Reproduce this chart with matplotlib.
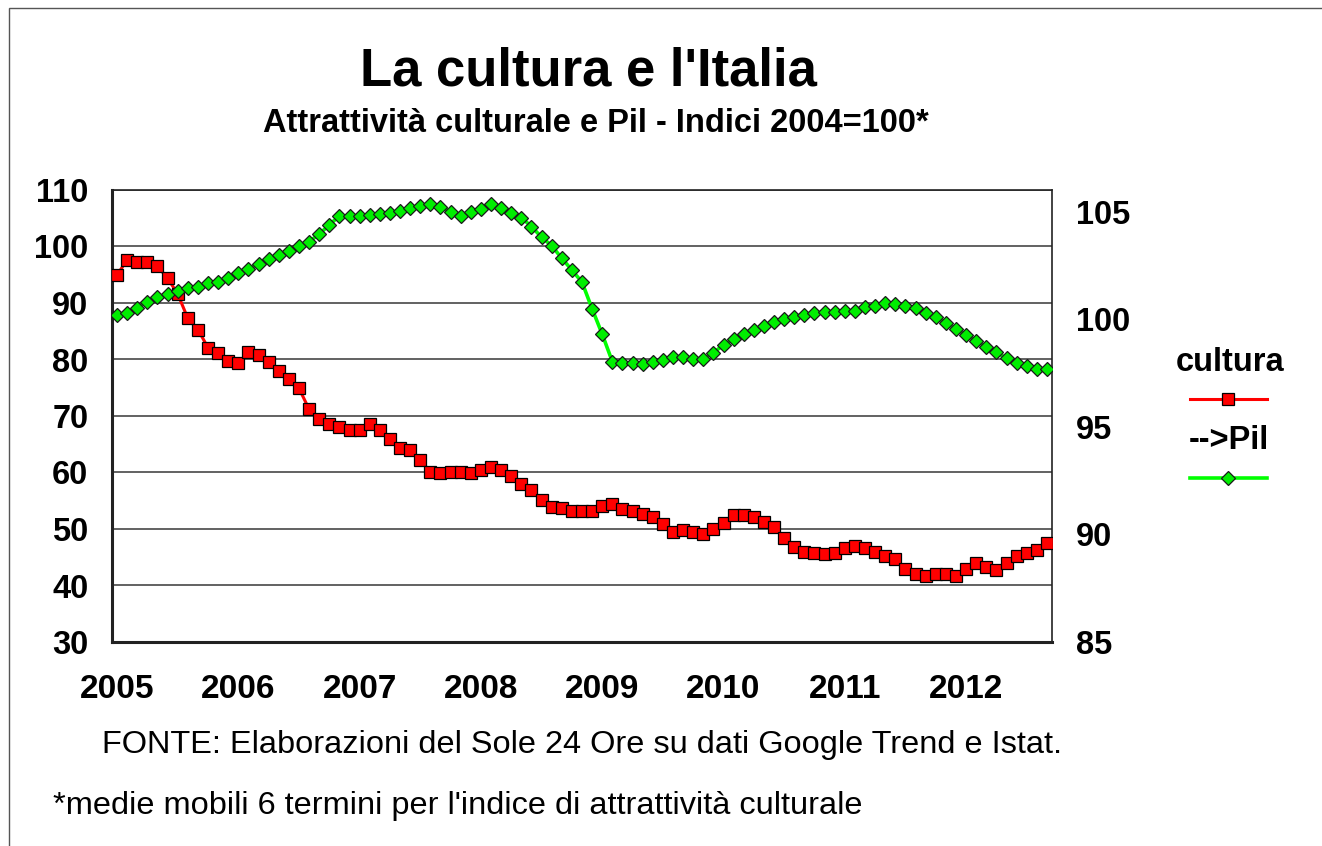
import matplotlib
matplotlib.use("Agg")
import matplotlib.pyplot as plt
from matplotlib.lines import Line2D
from matplotlib.patches import Rectangle

plt.rcParams['font.family'] = ['Liberation Sans', 'DejaVu Sans']

# Monthly data, Jan 2005 - Sep 2012
cultura = [95.0, 97.6, 97.3, 97.3, 96.5, 94.4, 91.6, 87.3, 85.3, 82.1, 81.1, 79.7,
           79.3, 81.3, 80.8, 79.5, 78.0, 76.6, 74.9, 71.2, 69.4, 68.6, 68.1, 67.5,
           67.5, 68.6, 67.5, 65.9, 64.3, 64.0, 62.2, 60.1, 59.9, 60.1, 60.1, 59.9,
           60.4, 60.9, 60.4, 59.3, 57.9, 56.9, 55.1, 53.9, 53.7, 53.2, 53.2, 53.2,
           54.1, 54.4, 53.5, 53.2, 52.7, 52.2, 50.8, 49.4, 49.8, 49.4, 49.1, 50.0,
           51.1, 52.5, 52.5, 52.2, 51.3, 50.3, 48.4, 46.8, 46.0, 45.7, 45.5, 45.7,
           46.6, 47.0, 46.6, 46.0, 45.2, 44.7, 43.0, 42.0, 41.7, 42.0, 42.0, 41.7,
           43.0, 43.9, 43.3, 42.7, 44.0, 45.2, 45.7, 46.3, 47.6]

pil = [100.20, 100.28, 100.54, 100.81, 101.01, 101.17, 101.33, 101.44, 101.51, 101.67, 101.74, 101.93,
       102.13, 102.33, 102.57, 102.80, 102.98, 103.18, 103.40, 103.60, 103.95, 104.38, 104.80, 104.80,
       104.80, 104.85, 104.87, 104.95, 105.03, 105.15, 105.26, 105.35, 105.23, 105.00, 104.79, 105.00,
       105.12, 105.35, 105.15, 104.95, 104.72, 104.30, 103.81, 103.41, 102.83, 102.28, 101.72, 100.48,
       99.30, 98.03, 97.95, 97.98, 97.91, 98.01, 98.11, 98.26, 98.23, 98.15, 98.15, 98.44,
       98.80, 99.07, 99.30, 99.50, 99.70, 99.85, 100.00, 100.12, 100.20, 100.28, 100.32, 100.32,
       100.38, 100.38, 100.55, 100.63, 100.77, 100.69, 100.63, 100.54, 100.28, 100.08, 99.84, 99.54,
       99.27, 98.99, 98.72, 98.46, 98.18, 97.98, 97.83, 97.69, 97.69]

year_labels = ['2005', '2006', '2007', '2008', '2009', '2010', '2011', '2012']
left_ticks = [30, 40, 50, 60, 70, 80, 90, 100, 110]
right_ticks = [85, 90, 95, 100, 105]

W, H = 1322, 846
fig = plt.figure(figsize=(W / 100, H / 100), dpi=100)
fig.patch.set_facecolor('white')

# outer chart border (partly cut off)
fig.patches.append(Rectangle((9 / W, -0.05), 1.2, 1 - 8 / H + 0.05, transform=fig.transFigure,
                             fill=False, edgecolor='#555555', linewidth=1.0))

L, R, T, B = 112, 1052, 190, 642
ax = fig.add_axes([L / W, 1 - B / H, (R - L) / W, (B - T) / H])
x = list(range(len(cultura)))

ax.plot(x, cultura, color='#FF0000', lw=2.2, marker='s', ms=8,
        markerfacecolor='#FF0000', markeredgecolor='#000000', markeredgewidth=0.9, zorder=3)
ax.set_ylim(30, 110)
ax.set_xlim(-0.5, len(cultura) - 0.5)
ax.set_yticks(left_ticks)
ax.set_yticklabels([str(t) for t in left_ticks], fontsize=23.5, fontweight='bold')
ax.set_xticks([12 * k for k in range(len(year_labels))])
ax.set_xticklabels(year_labels, fontsize=24, fontweight='bold')
ax.tick_params(axis='both', length=0)
ax.tick_params(axis='x', pad=23)
ax.tick_params(axis='y', pad=17)
ax.yaxis.grid(True, color='#555555', linewidth=1.3)
ax.set_axisbelow(True)
for s in ['left', 'bottom']:
    ax.spines[s].set_linewidth(2.2)
    ax.spines[s].set_color('#222222')
for s in ['top', 'right']:
    ax.spines[s].set_linewidth(1.2)
    ax.spines[s].set_color('#222222')

ax2 = ax.twinx()
ax2.plot(x, pil, color='#00FF00', lw=2.6, marker='D', ms=6.8,
         markerfacecolor='#00EE00', markeredgecolor='#1a1a1a', markeredgewidth=0.9, zorder=3)
ax2.set_ylim(85, 106)
ax2.set_yticks(right_ticks)
ax2.set_yticklabels([str(t) for t in right_ticks], fontsize=23.5, fontweight='bold')
ax2.tick_params(axis='y', length=0, pad=17)
for s in ax2.spines.values():
    s.set_visible(False)

# titles
fig.text(588 / W, 1 - 72 / H, "La cultura e l'Italia", ha='center', va='center',
         fontsize=38, fontweight='bold')
fig.text(596 / W, 1 - 123 / H, "Attrattività culturale e Pil - Indici 2004=100*", ha='center',
         va='center', fontsize=23.5, fontweight='bold')

# legend (manual)
fig.text(1230 / W, 1 - 362 / H, "cultura", ha='center', va='center', fontsize=23.5, fontweight='bold')
fig.lines.append(Line2D([1190 / W, 1267 / W], [1 - 399 / H, 1 - 399 / H], transform=fig.transFigure,
                        color='#FF0000', lw=2.2))
fig.lines.append(Line2D([1228 / W], [1 - 399 / H], transform=fig.transFigure, marker='s', ms=8,
                        markerfacecolor='#FF0000', markeredgecolor='#000000', markeredgewidth=0.9))
fig.text(1229 / W, 1 - 440 / H, "-->Pil", ha='center', va='center', fontsize=23.5, fontweight='bold')
fig.lines.append(Line2D([1190 / W, 1267 / W], [1 - 478 / H, 1 - 478 / H], transform=fig.transFigure,
                        color='#00FF00', lw=2.6))
fig.lines.append(Line2D([1228 / W], [1 - 478 / H], transform=fig.transFigure, marker='D', ms=6.8,
                        markerfacecolor='#00EE00', markeredgecolor='#1a1a1a', markeredgewidth=0.9))

# footnotes
fig.text(582 / W, 1 - 745 / H, "FONTE: Elaborazioni del Sole 24 Ore su dati Google Trend e Istat.",
         ha='center', va='center', fontsize=23.4)
fig.text(53 / W, 1 - 806 / H, "*medie mobili 6 termini per l'indice di attrattività culturale",
         ha='left', va='center', fontsize=23.4)

fig.savefig('out.png', dpi=100, facecolor='white')
